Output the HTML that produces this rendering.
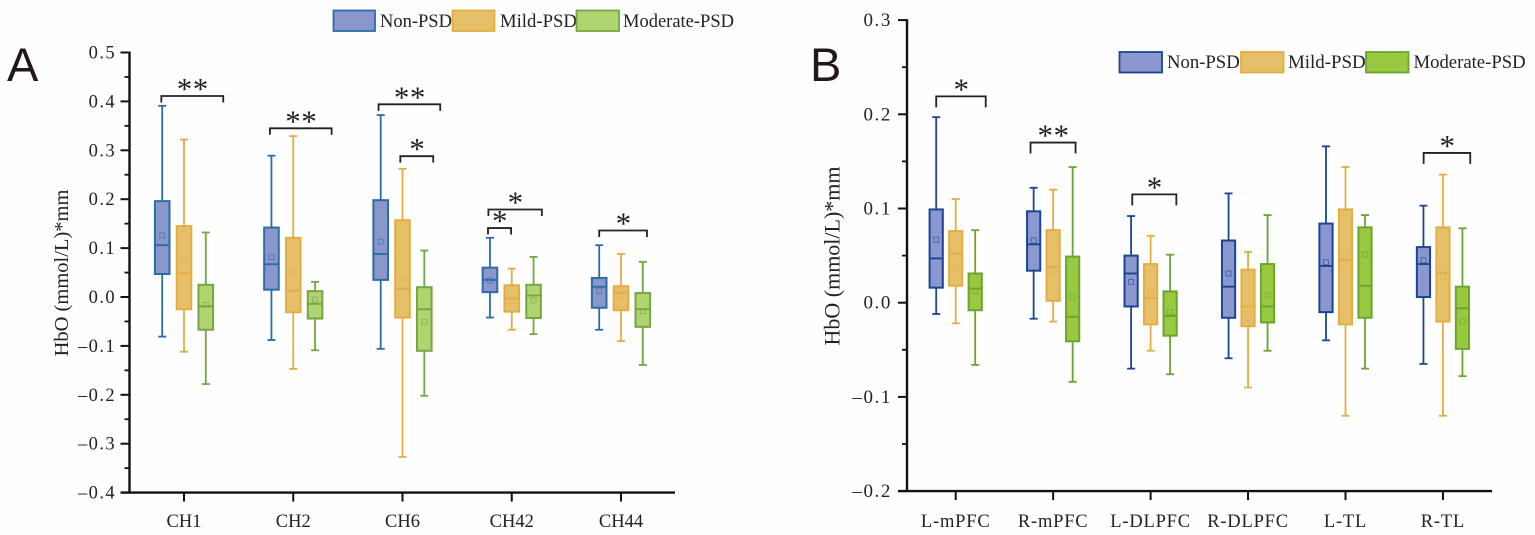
<!DOCTYPE html>
<html lang="en">
<head>
<meta charset="utf-8">
<title>HbO box plots</title>
<style>
html,body{margin:0;padding:0;background:#fefefe;width:1535px;height:535px;overflow:hidden}
svg{display:block}
text{font-family:"Liberation Serif",serif;fill:#222}
</style>
</head>
<body>
<svg id="chart" width="1535" height="535" viewBox="0 0 1535 535" xmlns="http://www.w3.org/2000/svg">
  <text x="7" y="81" style="font-family:'Liberation Sans',sans-serif;font-size:47px;fill:#231815">A</text>
  <text x="810" y="81" style="font-family:'Liberation Sans',sans-serif;font-size:47px;fill:#231815">B</text>

  <g>
    <rect x="333.5" y="10.5" width="41.5" height="20.5" fill="#8a97cd" stroke="#2a6ca8" stroke-width="1.8"/>
    <text x="380" y="27" font-size="18.5">Non-PSD</text>
    <rect x="452.5" y="10.5" width="42" height="20.5" fill="#e6c069" stroke="#e3ad42" stroke-width="1.8"/>
    <text x="500" y="27" font-size="18.7">Mild-PSD</text>
    <rect x="576.5" y="10.5" width="42.5" height="20.5" fill="#b0d46f" stroke="#76a544" stroke-width="1.8"/>
    <text x="623" y="27" font-size="18.5">Moderate-PSD</text>
  </g>
  <g>
    <rect x="1119.5" y="52" width="42.5" height="20.5" fill="#8b98cf" stroke="#1a4596" stroke-width="1.8"/>
    <text x="1167" y="68" font-size="18.7">Non-PSD</text>
    <rect x="1241" y="52" width="42.5" height="20.5" fill="#e6c069" stroke="#e3ad42" stroke-width="1.8"/>
    <text x="1288" y="68" font-size="18.9">Mild-PSD</text>
    <rect x="1366" y="52" width="42.5" height="20.5" fill="#99c940" stroke="#6da32f" stroke-width="1.8"/>
    <text x="1413.5" y="68" font-size="18.7">Moderate-PSD</text>
  </g>

  <text transform="translate(68,273) rotate(-90)" text-anchor="middle" font-size="20.5">HbO (mmol/L)*mm</text>
  <text transform="translate(839.5,256) rotate(-90)" text-anchor="middle" font-size="22">HbO (mmol/L)*mm</text>
</svg>
<script>
// Panel A data: each stat has one row per series (Non, Mild, Moderate), one value per category
const aCategories = ['CH1', 'CH2', 'CH6', 'CH42', 'CH44'];
const aTicks = ['0.5', '0.4', '0.3', '0.2', '0.1', '0.0', '–0.1', '–0.2', '–0.3', '–0.4'];
const aTickValues = [0.5, 0.4, 0.3, 0.2, 0.1, 0, -0.1, -0.2, -0.3, -0.4];
const aWhiskerHigh = [
  [0.391, 0.289, 0.372, 0.121, 0.106],
  [0.322, 0.329, 0.262, 0.058, 0.088],
  [0.132, 0.031, 0.095, 0.082, 0.072]
];
const aQ3 = [
  [0.196, 0.142, 0.198, 0.060, 0.039],
  [0.145, 0.121, 0.157, 0.024, 0.022],
  [0.025, 0.012, 0.020, 0.025, 0.008]
];
const aMedian = [
  [0.106, 0.067, 0.088, 0.035, 0.021],
  [0.048, 0.013, 0.017, -0.003, 0.009],
  [-0.019, -0.014, -0.025, 0.003, -0.025]
];
const aMean = [
  [0.126, 0.082, 0.113, 0.034, 0.013],
  [0.078, 0.050, 0.039, -0.008, 0.000],
  [-0.016, -0.005, -0.051, -0.007, -0.029]
];
const aQ1 = [
  [0.047, 0.015, 0.035, 0.010, -0.022],
  [-0.025, -0.031, -0.042, -0.030, -0.027],
  [-0.067, -0.044, -0.110, -0.043, -0.061]
];
const aWhiskerLow = [
  [-0.081, -0.088, -0.106, -0.042, -0.067],
  [-0.112, -0.147, -0.327, -0.067, -0.090],
  [-0.178, -0.109, -0.202, -0.076, -0.139]
];
const aBracketCategory = [0, 1, 2, 2, 3, 3, 4];
const aBracketFrom = [-1.04, -1.07, -1.10, -0.10, -1.07, -1.09, -1.00];
const aBracketTo = [1.80, 1.76, 1.73, 1.41, 1.38, -0.03, 1.19];
const aBracketLevel = [0.411, 0.345, 0.394, 0.288, 0.179, 0.141, 0.136];
const aBracketMark = ['**', '**', '**', '*', '*', '*', '*'];

// Panel B data
const bCategories = ['L-mPFC', 'R-mPFC', 'L-DLPFC', 'R-DLPFC', 'L-TL', 'R-TL'];
const bTicks = ['0.3', '0.2', '0.1', '0.0', '–0.1', '–0.2'];
const bTickValues = [0.3, 0.2, 0.1, 0, -0.1, -0.2];
const bWhiskerHigh = [
  [0.197, 0.122, 0.092, 0.116, 0.166, 0.103],
  [0.110, 0.120, 0.071, 0.054, 0.144, 0.136],
  [0.077, 0.144, 0.051, 0.093, 0.093, 0.079]
];
const bQ3 = [
  [0.099, 0.097, 0.050, 0.066, 0.084, 0.059],
  [0.076, 0.077, 0.041, 0.035, 0.099, 0.080],
  [0.031, 0.049, 0.012, 0.041, 0.080, 0.017]
];
const bMedian = [
  [0.047, 0.062, 0.031, 0.017, 0.039, 0.041],
  [0.052, 0.038, 0.005, -0.004, 0.045, 0.032],
  [0.015, -0.015, -0.014, -0.004, 0.018, -0.006]
];
const bMean = [
  [0.067, 0.066, 0.022, 0.031, 0.043, 0.045],
  [0.036, 0.033, 0.010, -0.016, 0.048, 0.027],
  [0.012, 0.006, -0.010, 0.008, 0.051, -0.020]
];
const bQ1 = [
  [0.016, 0.034, -0.004, -0.016, -0.010, 0.006],
  [0.018, 0.002, -0.023, -0.025, -0.023, -0.020],
  [-0.008, -0.041, -0.035, -0.021, -0.016, -0.049]
];
const bWhiskerLow = [
  [-0.012, -0.017, -0.070, -0.059, -0.040, -0.065],
  [-0.022, -0.020, -0.051, -0.090, -0.120, -0.120],
  [-0.066, -0.084, -0.076, -0.051, -0.070, -0.078]
];
const bBracketCategory = [0, 1, 2, 5];
const bBracketFrom = [-1.00, -1.16, -0.94, -0.99];
const bBracketTo = [1.54, 1.15, 1.32, 1.40];
const bBracketLevel = [0.219, 0.170, 0.115, 0.159];
const bBracketMark = ['*', '**', '*', '*'];

const seriesNames = ['non-psd', 'mild-psd', 'moderate-psd'];

const NS = 'http://www.w3.org/2000/svg';
const root = document.getElementById('chart');

function make(tag, attrs, parent) {
  const el = document.createElementNS(NS, tag);
  for (const k in attrs) el.setAttribute(k, attrs[k]);
  parent.appendChild(el);
  return el;
}

function drawPanel(p) {
  const y = v => p.zeroY - v * p.pxPerUnit;
  const catX = c => p.firstX + c * p.step;
  const boxX = (c, s) => catX(c) + (s - 1) * p.offset;

  const g = make('g', {}, root);
  
  

  // boxes
  p.high.forEach((row, s) => {
    row.forEach((_, c) => {
      const cx = boxX(c, s);
      const box = make('g', {}, g);
      
      
      const st = p.strokes[s];
      const hw = p.boxWidth / 2;
      const line = (x1, y1, x2, y2, w) => make('line', {x1, y1, x2, y2, stroke: st, 'stroke-width': w}, box);
      line(cx, y(p.high[s][c]), cx, y(p.q3[s][c]), 1.8);
      line(cx, y(p.q1[s][c]), cx, y(p.low[s][c]), 1.8);
      line(cx - 4, y(p.high[s][c]), cx + 4, y(p.high[s][c]), 1.8);
      line(cx - 4, y(p.low[s][c]), cx + 4, y(p.low[s][c]), 1.8);
      make('rect', {x: cx - hw, y: y(p.q3[s][c]), width: p.boxWidth, height: y(p.q1[s][c]) - y(p.q3[s][c]), fill: p.fills[s], stroke: st, 'stroke-width': 2}, box);
      line(cx - hw, y(p.median[s][c]), cx + hw, y(p.median[s][c]), 1.9);
      make('rect', {x: cx - 2.5, y: y(p.mean[s][c]) - 2.5, width: 5, height: 5, fill: 'none', stroke: st, 'stroke-width': 1, 'stroke-opacity': 0.6}, box);
    });
  });

  // axes
  const yAxis = make('line', {x1: p.axisX, y1: y(p.yMax) - 1, x2: p.axisX, y2: y(p.yMin) + 1, stroke: '#111', 'stroke-width': 2.4}, g);
  
  
  const xAxis = make('line', {x1: p.axisX - p.majorLen, y1: y(p.yMin), x2: p.axisEnd, y2: y(p.yMin), stroke: '#111', 'stroke-width': 2.4}, g);
  
  

  p.tickValues.forEach((v, i) => {
    const tick = make('line', {x1: p.axisX - p.majorLen, y1: y(v), x2: p.axisX, y2: y(v), stroke: '#111', 'stroke-width': 2}, g);
    
    
    const label = make('text', {x: p.labelRight, y: y(v) + 6, 'text-anchor': 'end', 'font-size': p.tickFont, 'letter-spacing': p.tickSpacing}, g);
    label.textContent = p.ticks[i];
    
    
    if (i < p.tickValues.length - 1) {
      const minorV = (v + p.tickValues[i + 1]) / 2;
      const minor = make('line', {x1: p.axisX - p.minorLen, y1: y(minorV), x2: p.axisX, y2: y(minorV), stroke: '#111', 'stroke-width': 1.8}, g);
      
      
    }
  });

  p.categories.forEach((name, c) => {
    const tick = make('line', {x1: catX(c), y1: y(p.yMin), x2: catX(c), y2: y(p.yMin) + 9, stroke: '#111', 'stroke-width': 2}, g);
    
    
    const label = make('text', {x: catX(c), y: 527, 'text-anchor': 'middle', 'font-size': p.catFont, 'letter-spacing': p.catSpacing}, g);
    label.textContent = name;
    
    
  });

  // significance brackets
  p.brCat.forEach((c, i) => {
    const x1 = catX(c) + p.brFrom[i] * p.offset;
    const x2 = catX(c) + p.brTo[i] * p.offset;
    const by = y(p.brLevel[i]);
    const d = 'M' + x1 + ' ' + (by + p.brDrop) + 'V' + by + 'H' + x2 + 'V' + (by + p.brDrop);
    const br = make('path', {d: d, fill: 'none', stroke: '#222', 'stroke-width': 1.8}, g);
    
    
    const star = make('text', {x: (x1 + x2) / 2 + 0.5, y: by + 3, 'text-anchor': 'middle', 'font-size': 31, 'letter-spacing': 0.5}, g);
    star.textContent = p.brMark[i];
    
    
  });
}

drawPanel({
  id: 'a', categories: aCategories, ticks: aTicks, tickValues: aTickValues,
  high: aWhiskerHigh, q3: aQ3, median: aMedian, mean: aMean, q1: aQ1, low: aWhiskerLow,
  brCat: aBracketCategory, brFrom: aBracketFrom, brTo: aBracketTo, brLevel: aBracketLevel, brMark: aBracketMark,
  zeroY: 297, pxPerUnit: 489, yMax: 0.5, yMin: -0.4,
  firstX: 184, step: 109.25, offset: 21.8, boxWidth: 14.6,
  axisX: 129.5, axisEnd: 675, majorLen: 9, minorLen: 5, labelRight: 116,
  tickFont: 18.5, tickSpacing: 1.4, catFont: 18.5, catSpacing: 0,
  brDrop: 6.5,
  strokes: ['#2a6ca8', '#e3ad42', '#76a544'], fills: ['#8a97cd', '#e6c069', '#b0d46f']
});
drawPanel({
  id: 'b', categories: bCategories, ticks: bTicks, tickValues: bTickValues,
  high: bWhiskerHigh, q3: bQ3, median: bMedian, mean: bMean, q1: bQ1, low: bWhiskerLow,
  brCat: bBracketCategory, brFrom: bBracketFrom, brTo: bBracketTo, brLevel: bBracketLevel, brMark: bBracketMark,
  zeroY: 302.7, pxPerUnit: 942, yMax: 0.3, yMin: -0.2,
  firstX: 955.7, step: 97.45, offset: 19.5, boxWidth: 13.2,
  axisX: 907, axisEnd: 1492, majorLen: 9, minorLen: 5, labelRight: 892,
  tickFont: 19, tickSpacing: 1.6, catFont: 18.5, catSpacing: 0.8,
  brDrop: 11,
  strokes: ['#1a4596', '#e3ad42', '#6da32f'], fills: ['#8b98cf', '#e6c069', '#99c940']
});
</script>
</body>
</html>
